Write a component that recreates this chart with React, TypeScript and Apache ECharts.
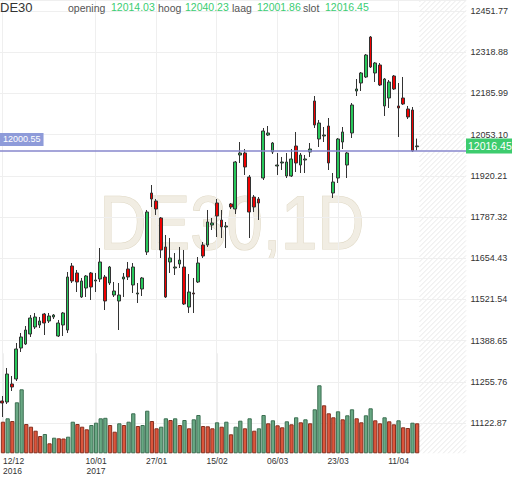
import React, { useEffect, useRef } from "react";
import * as echarts from "echarts";

// ---- data ----
const DATES: string[] = [
  "2016-12-12", "2016-12-13", "2016-12-14", "2016-12-15", "2016-12-16",
  "2016-12-19", "2016-12-20", "2016-12-21", "2016-12-22", "2016-12-23",
  "2016-12-27", "2016-12-28", "2016-12-29", "2016-12-30",
  "2017-01-02", "2017-01-03", "2017-01-04", "2017-01-05", "2017-01-06",
  "2017-01-09", "2017-01-10", "2017-01-11", "2017-01-12", "2017-01-13",
  "2017-01-16", "2017-01-17", "2017-01-18", "2017-01-19", "2017-01-20",
  "2017-01-23", "2017-01-24", "2017-01-25", "2017-01-26", "2017-01-27",
  "2017-01-30", "2017-01-31",
  "2017-02-01", "2017-02-02", "2017-02-03", "2017-02-06", "2017-02-07",
  "2017-02-08", "2017-02-09", "2017-02-10", "2017-02-13", "2017-02-14",
  "2017-02-15", "2017-02-16", "2017-02-17", "2017-02-20", "2017-02-21",
  "2017-02-22", "2017-02-23", "2017-02-24", "2017-02-27", "2017-02-28",
  "2017-03-01", "2017-03-02", "2017-03-03", "2017-03-06", "2017-03-07",
  "2017-03-08", "2017-03-09", "2017-03-10", "2017-03-13", "2017-03-14",
  "2017-03-15", "2017-03-16", "2017-03-17", "2017-03-20", "2017-03-21",
  "2017-03-22", "2017-03-23", "2017-03-24", "2017-03-27", "2017-03-28",
  "2017-03-29", "2017-03-30", "2017-03-31",
  "2017-04-03", "2017-04-04", "2017-04-05", "2017-04-06", "2017-04-07",
  "2017-04-10", "2017-04-11", "2017-04-12", "2017-04-13", "2017-04-18",
  "2017-04-19",
];

// [open, close, low, high]
const OHLC: number[][] = [
  [11193.8, 11187.4, 11142.2, 11210.0],
  [11190.6, 11280.9, 11184.2, 11300.3],
  [11248.7, 11239.0, 11226.1, 11274.5],
  [11264.8, 11361.6, 11258.3, 11380.9],
  [11364.8, 11400.3, 11351.9, 11413.2],
  [11377.7, 11422.8, 11374.5, 11435.7],
  [11409.9, 11461.5, 11400.3, 11471.2],
  [11432.5, 11464.8, 11426.1, 11477.7],
  [11439.0, 11451.9, 11429.3, 11464.8],
  [11474.4, 11445.4, 11406.7, 11477.7],
  [11451.9, 11468.0, 11445.4, 11477.7],
  [11464.8, 11471.2, 11458.3, 11474.4],
  [11403.5, 11445.4, 11400.3, 11455.1],
  [11439.0, 11477.7, 11403.5, 11480.9],
  [11422.8, 11593.8, 11413.2, 11609.9],
  [11629.3, 11580.9, 11574.4, 11638.9],
  [11606.7, 11577.7, 11545.4, 11616.4],
  [11529.3, 11580.9, 11526.1, 11590.6],
  [11558.3, 11597.0, 11529.3, 11600.2],
  [11606.7, 11561.5, 11519.6, 11609.9],
  [11580.9, 11584.1, 11545.4, 11606.7],
  [11587.3, 11642.2, 11577.7, 11687.3],
  [11593.8, 11516.4, 11487.3, 11600.2],
  [11574.4, 11626.0, 11568.0, 11629.3],
  [11535.7, 11548.6, 11529.3, 11577.7],
  [11516.4, 11535.7, 11422.8, 11574.4],
  [11587.3, 11593.8, 11529.3, 11606.7],
  [11619.6, 11593.8, 11584.1, 11642.2],
  [11568.0, 11626.0, 11542.2, 11638.9],
  [11539.0, 11542.2, 11509.9, 11574.4],
  [11555.1, 11590.6, 11532.5, 11593.8],
  [11674.4, 11803.4, 11664.8, 11809.9],
  [11864.7, 11845.4, 11819.6, 11890.5],
  [11838.9, 11813.1, 11793.8, 11845.4],
  [11784.1, 11680.9, 11655.1, 11787.3],
  [11690.6, 11529.3, 11526.1, 11729.3],
  [11642.2, 11655.1, 11606.7, 11719.6],
  [11622.8, 11626.0, 11600.2, 11671.2],
  [11635.7, 11648.6, 11622.8, 11690.6],
  [11626.0, 11506.7, 11503.5, 11680.9],
  [11497.0, 11545.4, 11477.7, 11603.5],
  [11542.2, 11539.0, 11477.7, 11590.6],
  [11577.7, 11638.9, 11574.4, 11658.3],
  [11697.0, 11661.5, 11655.1, 11706.7],
  [11697.0, 11771.2, 11690.6, 11809.9],
  [11761.5, 11768.0, 11745.4, 11784.1],
  [11832.5, 11790.5, 11722.8, 11845.4],
  [11777.6, 11755.1, 11719.6, 11809.9],
  [11755.1, 11758.3, 11687.3, 11771.2],
  [11829.3, 11819.6, 11813.1, 11832.5],
  [11813.1, 11964.7, 11797.0, 11967.9],
  [11987.3, 11993.8, 11961.5, 12029.2],
  [11993.8, 11948.6, 11922.8, 12006.7],
  [11916.3, 11803.4, 11719.6, 11922.8],
  [11851.8, 11819.6, 11803.4, 11858.3],
  [11845.4, 11832.5, 11777.6, 11851.8],
  [11913.1, 12064.7, 11906.7, 12074.4],
  [12051.8, 12058.3, 12048.6, 12080.8],
  [11997.0, 12026.0, 11990.5, 12029.2],
  [11951.8, 11955.0, 11922.8, 11993.8],
  [11961.5, 11964.7, 11938.9, 11980.9],
  [11919.6, 11964.7, 11913.1, 11993.8],
  [11919.6, 11974.4, 11916.3, 12006.7],
  [12016.3, 11961.5, 11932.5, 12061.5],
  [11955.0, 11987.3, 11929.2, 11993.8],
  [11971.2, 11974.4, 11929.2, 11987.3],
  [11997.0, 12006.7, 11980.9, 12026.0],
  [12161.5, 12084.1, 12074.4, 12177.6],
  [12038.9, 12090.5, 12013.1, 12100.2],
  [12048.6, 12051.8, 12029.2, 12077.6],
  [12080.8, 11961.5, 11938.9, 12106.6],
  [11864.7, 11900.2, 11848.6, 11929.2],
  [11913.1, 12038.9, 11897.0, 12042.1],
  [12029.2, 12061.5, 12006.7, 12077.6],
  [11955.0, 11993.8, 11913.1, 11997.0],
  [12058.3, 12148.6, 12042.1, 12155.0],
  [12193.7, 12200.2, 12177.6, 12232.4],
  [12219.5, 12251.8, 12193.7, 12255.0],
  [12238.9, 12309.8, 12235.7, 12313.1],
  [12367.9, 12271.1, 12267.9, 12371.1],
  [12251.8, 12284.0, 12222.8, 12287.0],
  [12277.6, 12213.1, 12209.9, 12284.0],
  [12145.4, 12232.4, 12113.1, 12235.7],
  [12171.2, 12222.8, 12138.9, 12229.2],
  [12242.1, 12200.2, 12197.0, 12245.3],
  [12145.4, 12138.9, 12045.4, 12219.5],
  [12171.2, 12151.8, 12148.6, 12238.9],
  [12135.7, 12109.9, 12103.4, 12145.4],
  [12132.4, 12000.55, 11997.0, 12142.1],
  [12014.03, 12016.45, 12001.86, 12040.23],
];

const VOLUME: number[] = [
  31600, 35000, 32300, 51000, 64000, 29300, 26600, 22600, 17300, 19300,
  10000, 15600, 15000, 14800, 16600, 31600, 29300, 26600, 24000, 28300,
  30600, 35000, 35500, 28300, 21600, 30000, 28300, 31600, 40000, 27300,
  28300, 42600, 32300, 25000, 26600, 35000, 33300, 35000, 28300, 33300,
  25000, 34000, 38300, 27300, 27000, 25000, 31000, 26600, 31600, 19000,
  26600, 32600, 25000, 35000, 22600, 25000, 38300, 30000, 33000, 28000,
  26000, 32000, 29000, 36000, 31000, 34000, 30000, 44000, 68000, 48000,
  40000, 36000, 42000, 34000, 38000, 44000, 35000, 31000, 38000, 45000,
  33000, 30000, 36000, 32000, 29000, 33000, 26000, 25300, 30600, 30000,
];

const TICK_DATES: string[] = [
  "2016-12-12", "2017-01-10", "2017-01-27", "2017-02-15",
  "2017-03-06", "2017-03-23", "2017-04-11",
];

const PRICE_TICK_BASE = 11122.87; // lowest labelled price tick
const PRICE_TICK_STEP = 132.89;
const PRICE_TOP = 12487.25; // price at the top edge of the plot
const PREV_CLOSE = 12000.55;
const HEADER_LABELS = ["opening", "hoog", "laag", "slot"];
const HEADER_VALUES = [12014.03, 12040.23, 12001.86, 12016.45];
const SYMBOL = "DE30";
const WATERMARK = "DE30,1D";
const FUTURE_SLOTS = 10;

// ---- layout / style ----
const W = 512;
const H = 477;
const PLOT_RIGHT = 466;
const PRICE_BOTTOM = 423;
const VOL_BOTTOM = 453.3;
const VOL_HEIGHT = 100;
const VOL_MAX = 100000;
const FONT = '"Liberation Sans", Arial, Helvetica, sans-serif';
const UP = "#27c75a";
const DOWN = "#f00000";
const VOL_UP = "#69a884";
const VOL_UP_B = "#3c6f52";
const VOL_DOWN = "#dc553c";
const VOL_DOWN_B = "#85301f";
const GRID_C = "#efefef";
const VALUE_GREEN = "#3acd72";

export default function App() {
  const ref = useRef<HTMLDivElement>(null);

  useEffect(() => {
    document.body.style.margin = "0";
    if (!ref.current) return;
    const chart = echarts.init(ref.current, undefined, { renderer: "svg" });

    const cats = [...DATES, ...Array.from({ length: FUTURE_SLOTS }, (_, i) => "f" + i)];
    const tickIdx = new Set(TICK_DATES.map((d) => DATES.indexOf(d)));
    const isTick = (i: number) => tickIdx.has(i);
    const sortedTicks = [...tickIdx].sort((a, b) => a - b);

    const fmtDate = (value: string, index: number) => {
      if (!DATES.includes(value)) return "";
      const [y, m, d] = value.split("-");
      const pos = sortedTicks.indexOf(index);
      let showYear = pos === 0;
      if (pos > 0) {
        const prevYear = DATES[sortedTicks[pos - 1]].split("-")[0];
        showYear = prevYear !== y;
      }
      return showYear ? `${d}/${m}\n${y}` : `${d}/${m}`;
    };

    const shift = (v: number) => +(v - PRICE_TICK_BASE).toFixed(4);
    const candleData = OHLC.map((r) => r.map(shift));
    const last = OHLC[OHLC.length - 1];

    const volData = VOLUME.map((v, i) => {
      const up = i > 0 && v > VOLUME[i - 1];
      return {
        value: v,
        itemStyle: {
          color: up ? VOL_UP : VOL_DOWN,
          borderColor: up ? VOL_UP_B : VOL_DOWN_B,
          borderWidth: 1,
        },
      };
    });

    // hatched "future" area
    const bandW = PLOT_RIGHT / cats.length;
    const hx0 = bandW * DATES.length;
    const hatch: any[] = [];
    for (let c = hx0 + 2; c < PLOT_RIGHT + VOL_BOTTOM; c += 5) {
      const x1 = Math.max(hx0, c - VOL_BOTTOM);
      const y1 = c - x1;
      const x2 = Math.min(PLOT_RIGHT, c);
      const y2 = c - x2;
      if (x2 <= x1) continue;
      hatch.push({
        type: "line",
        silent: true,
        z: 0,
        shape: { x1, y1, x2, y2 },
        style: { stroke: "#e9e9e9", lineWidth: 1 },
      });
    }

    const headerEls: any[] = [
      {
        type: "text",
        x: 0,
        y: 7,
        z: 10,
        style: { text: SYMBOL, fill: "#333", font: `13px ${FONT}`, verticalAlign: "middle" },
      },
    ];
    const labelX = [68, 158, 232, 303];
    const valueX = [111, 185, 257, 325];
    HEADER_LABELS.forEach((t, i) => {
      headerEls.push({
        type: "text",
        x: labelX[i],
        y: 8,
        z: 10,
        style: { text: t, fill: "#555", font: `10.5px ${FONT}`, verticalAlign: "middle" },
      });
      headerEls.push({
        type: "text",
        x: valueX[i],
        y: 6.5,
        z: 10,
        style: {
          text: HEADER_VALUES[i].toFixed(2),
          fill: VALUE_GREEN,
          font: `10.5px ${FONT}`,
          verticalAlign: "middle",
        },
      });
    });

    const watermark = {
      type: "text",
      x: 232,
      y: 223,
      z: 0,
      silent: true,
      scaleX: 0.86,
      style: {
        text: WATERMARK,
        font: `76px ${FONT}`,
        fill: "#f1ede3",
        stroke: "#e0d9c6",
        lineWidth: 1.2,
        align: "center",
        verticalAlign: "middle",
      },
    };

    const xSplit = {
      show: true,
      interval: (i: number) => isTick(i),
      alignWithLabel: true,
      lineStyle: { color: GRID_C, width: 1 },
    };

    const option: any = {
      animation: false,
      textStyle: { fontFamily: FONT },
      grid: [
        { left: 0, right: W - PLOT_RIGHT, top: 0, height: PRICE_BOTTOM },
        { left: 0, right: W - PLOT_RIGHT, top: VOL_BOTTOM - VOL_HEIGHT, height: VOL_HEIGHT },
      ],
      xAxis: [
        {
          type: "category",
          gridIndex: 0,
          data: cats,
          boundaryGap: true,
          axisLine: { show: false },
          axisTick: { show: false },
          axisLabel: { show: false },
          splitLine: xSplit,
        },
        {
          type: "category",
          gridIndex: 1,
          data: cats,
          boundaryGap: true,
          axisLine: { show: false },
          axisTick: { show: false },
          splitLine: xSplit,
          axisLabel: {
            show: true,
            interval: (i: number) => isTick(i),
            formatter: fmtDate,
            fontSize: 8.5,
            lineHeight: 9.5,
            color: "#333",
            margin: 3,
            alignMinLabel: "left",
          },
        },
      ],
      yAxis: [
        {
          type: "value",
          gridIndex: 0,
          position: "right",
          min: 0,
          max: +(PRICE_TOP - PRICE_TICK_BASE).toFixed(2),
          interval: PRICE_TICK_STEP,
          axisLine: { show: false },
          axisTick: { show: false },
          axisLabel: {
            showMaxLabel: false,
            margin: 4.5,
            fontSize: 9,
            color: "#333",
            formatter: (u: number) => (u + PRICE_TICK_BASE).toFixed(2),
          },
          splitLine: { show: true, lineStyle: { color: GRID_C, width: 1 } },
        },
        {
          type: "value",
          gridIndex: 1,
          min: 0,
          max: VOL_MAX,
          show: false,
          splitLine: { show: false },
        },
      ],
      graphic: [watermark, ...hatch, ...headerEls],
      series: [
        {
          type: "bar",
          name: "volume",
          xAxisIndex: 1,
          yAxisIndex: 1,
          data: volData,
          barCategoryGap: "8%",
          z: 3,
        },
        {
          type: "candlestick",
          name: SYMBOL,
          xAxisIndex: 0,
          yAxisIndex: 0,
          data: candleData,
          barWidth: 3.2,
          clip: false,
          z: 4,
          itemStyle: {
            color: UP,
            color0: DOWN,
            borderColor: "#333",
            borderColor0: "#333",
            borderWidth: 1,
          },
          markLine: {
            symbol: ["none", "none"],
            silent: true,
            animation: false,
            z: 5,
            data: [
              {
                yAxis: shift(PREV_CLOSE),
                lineStyle: { color: "#8787cc", width: 1.5, type: "solid" },
                label: {
                  show: true,
                  position: "insideStartTop",
                  distance: [0, 5],
                  formatter: PREV_CLOSE.toFixed(2),
                  color: "#fff",
                  backgroundColor: "#8e9bd9",
                  padding: [2, 3, 2, 3],
                  fontSize: 9,
                },
              },
              {
                yAxis: shift(last[1]),
                lineStyle: { color: "rgba(0,0,0,0)", width: 1, type: "solid" },
                label: {
                  show: true,
                  position: "end",
                  distance: 0,
                  formatter: last[1].toFixed(2),
                  color: "#fff",
                  backgroundColor: "#3dcc6e",
                  padding: [2, 3, 2, 2],
                  fontSize: 10.5,
                },
              },
            ],
          },
        },
      ],
    };

    chart.setOption(option);
    return () => chart.dispose();
  }, []);

  return <div ref={ref} style={{ width: W, height: H }} />;
}
